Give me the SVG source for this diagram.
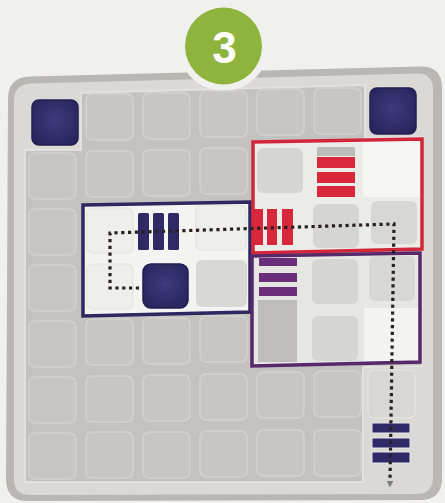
<svg xmlns="http://www.w3.org/2000/svg" width="445" height="503" viewBox="0 0 445 503">
  <defs>
    <style>
      .cell { fill: #c7c6c2; stroke: #d3d2ce; stroke-width: 1.5; }
      .faint { fill: #eeeeeb; stroke: #e3e3df; stroke-width: 1.2; }
      .lcell { fill: #d5d5d1; }
      .navy { fill: #2f2a66; }
      .red { fill: #d9283c; }
      .purple { fill: #6b2e7a; }
      .path { fill: none; stroke: #2a211f; stroke-width: 3.2; stroke-dasharray: 3.2 3.6; }
    </style>
    <radialGradient id="pyr" cx="0.5" cy="0.45" r="0.65">
      <stop offset="0" stop-color="#3f3b7c"/>
      <stop offset="1" stop-color="#27235c"/>
    </radialGradient>
    <marker id="arrow" viewBox="0 0 10 10" refX="2" refY="5" markerWidth="7" markerHeight="7" orient="auto" markerUnits="userSpaceOnUse">
      <path d="M0,0 L10,5 L0,10 Z" fill="#7d7d86"/>
    </marker>
  </defs>

  <rect x="0" y="0" width="445" height="503" fill="#f0f0ee"/>

  <g id="board">
    <path d="M8,99 Q8,77 30,76.5 L420,66.5 Q442,66 442,88 L442,478 Q442,500 420,500 L28,501 Q6,501 6,479 Z" fill="#bab7b2"/>
    <path d="M14,101 Q14,84 31,83.5 L417,73.5 Q433,73 433,90 L433,477 Q433,494 417,494 L30,495 Q14,495 14,479 Z" fill="#dad9d5"/>
    <path d="M81,93 L365,85 L365,138 L422,137 L422,366 L363,367 L363,482 L25,482 L25,150 L81,150 Z" fill="#c3c2be" stroke="#e2e1dd" stroke-width="2" stroke-linejoin="round"/>
  </g>

  <g id="badge">
    <circle cx="223.5" cy="46" r="45" fill="#f0f0ee"/>
    <circle cx="223.5" cy="46" r="38.5" fill="#8fb43e"/>
    <text x="224.5" y="63" font-family="Liberation Sans, Arial, sans-serif" font-weight="bold" font-size="44" fill="#ffffff" text-anchor="middle">3</text>
  </g>

  <g id="grid-cells">
    <!-- row 0 -->
    <rect class="cell" x="86" y="94" width="47" height="46" rx="6"/>
    <rect class="cell" x="143" y="93" width="47" height="46" rx="6"/>
    <rect class="cell" x="200" y="91" width="47" height="46" rx="6"/>
    <rect class="cell" x="257" y="89" width="47" height="46" rx="6"/>
    <rect class="cell" x="314" y="88" width="47" height="46" rx="6"/>
    <!-- row 1 -->
    <rect class="cell" x="29" y="153" width="47" height="46" rx="6"/>
    <rect class="cell" x="86" y="151" width="47" height="46" rx="6"/>
    <rect class="cell" x="143" y="150" width="47" height="46" rx="6"/>
    <rect class="cell" x="200" y="148" width="47" height="46" rx="6"/>
    <!-- rows 2-3 -->
    <rect class="cell" x="29" y="209" width="47" height="46" rx="6"/>
    <rect class="cell" x="29" y="265" width="47" height="46" rx="6"/>
    <!-- row 4 -->
    <rect class="cell" x="29" y="321" width="47" height="46" rx="6"/>
    <rect class="cell" x="86" y="319" width="47" height="46" rx="6"/>
    <rect class="cell" x="143" y="318" width="47" height="46" rx="6"/>
    <rect class="cell" x="200" y="316" width="47" height="46" rx="6"/>
    <!-- row 5 -->
    <rect class="cell" x="29" y="377" width="47" height="46" rx="6"/>
    <rect class="cell" x="86" y="376" width="47" height="46" rx="6"/>
    <rect class="cell" x="143" y="375" width="47" height="46" rx="6"/>
    <rect class="cell" x="200" y="374" width="47" height="46" rx="6"/>
    <rect class="cell" x="257" y="372" width="47" height="46" rx="6"/>
    <rect class="cell" x="314" y="371" width="47" height="46" rx="6"/>
    <!-- row 6 -->
    <rect class="cell" x="29" y="433" width="47" height="46" rx="6"/>
    <rect class="cell" x="86" y="432" width="47" height="46" rx="6"/>
    <rect class="cell" x="143" y="432" width="47" height="46" rx="6"/>
    <rect class="cell" x="200" y="431" width="47" height="46" rx="6"/>
    <rect class="cell" x="257" y="430" width="47" height="46" rx="6"/>
    <rect class="cell" x="314" y="430" width="47" height="46" rx="6"/>
    <!-- channel cell -->
    <rect x="368" y="370" width="47" height="48" rx="6" fill="#d8d7d3" stroke="#e2e1dd" stroke-width="1.5"/>
  </g>

  <g id="corner-top-left">
    <rect x="32" y="100" width="46" height="45" rx="7" fill="url(#pyr)" stroke="#221f50" stroke-width="1.5"/>
  </g>
  <g id="corner-top-right">
    <rect x="370" y="88" width="46" height="46" rx="7" fill="url(#pyr)" stroke="#221f50" stroke-width="1.5"/>
  </g>

  <g id="tile-navy">
    <path d="M83,205 L250,202 L250,312 L83,316 Z" fill="#f3f3f1"/>
    <rect class="faint" x="87" y="208" width="46" height="45" rx="6"/>
    <rect class="faint" x="87" y="264" width="46" height="45" rx="6"/>
    <rect class="faint" x="196" y="205" width="50" height="45" rx="6"/>
    <rect x="196" y="260" width="51" height="47" rx="6" fill="#d8d8d4"/>
    <rect class="navy" x="138" y="213" width="11" height="37" rx="1.5"/>
    <rect class="navy" x="153" y="213" width="11" height="37" rx="1.5"/>
    <rect class="navy" x="168" y="213" width="11" height="37" rx="1.5"/>
    <rect x="143" y="264" width="45" height="44" rx="8" fill="url(#pyr)" stroke="#221f50" stroke-width="1.5"/>
    <path d="M83,205 L250,202 L250,312 L83,316 Z" fill="none" stroke="#2d2862" stroke-width="3.5"/>
  </g>

  <g id="tile-red">
    <path d="M253,142 L422,139 L422,249 L253,253 Z" fill="#ebebe8"/>
    <rect x="363" y="142" width="57" height="55" fill="#f5f5f3"/>
    <rect class="lcell" x="257" y="148" width="46" height="45" rx="6"/>
    <rect x="317" y="147" width="38" height="9" fill="#bdbcb8"/>
    <rect class="red" x="317" y="157" width="38" height="11"/>
    <rect class="red" x="317" y="172" width="38" height="11"/>
    <rect class="red" x="317" y="186" width="38" height="11"/>
    <rect class="lcell" x="313" y="204" width="46" height="44" rx="6"/>
    <rect x="371" y="201" width="46" height="43" rx="6" fill="#d7d7d3"/>
    <rect class="red" x="253" y="209" width="10" height="36"/>
    <rect class="red" x="267" y="209" width="10" height="36"/>
    <rect class="red" x="282" y="209" width="11" height="36"/>
    <path d="M253,142 L422,139 L422,249 L253,253 Z" fill="none" stroke="#d3263a" stroke-width="3.5"/>
  </g>

  <g id="tile-purple">
    <path d="M252,256 L420,253 L420,362 L252,366 Z" fill="#e6e6e3"/>
    <rect x="364" y="308" width="54" height="53" fill="#f3f3f1"/>
    <rect class="lcell" x="312" y="259" width="46" height="45" rx="6"/>
    <rect x="369" y="256" width="46" height="45" rx="6" fill="#d7d7d3"/>
    <rect class="lcell" x="312" y="316" width="46" height="45" rx="6"/>
    <rect class="purple" x="259" y="258" width="38" height="8"/>
    <rect class="purple" x="259" y="273" width="38" height="9"/>
    <rect class="purple" x="259" y="287" width="38" height="9"/>
    <rect x="258" y="300" width="39" height="62" fill="#bebdb9"/>
    <path d="M252,256 L420,253 L420,362 L252,366 Z" fill="none" stroke="#57286a" stroke-width="3.5"/>
  </g>

  <g id="goal-bars">
    <rect class="navy" x="372" y="423" width="38" height="10" stroke="#e6e6ee" stroke-width="1"/>
    <rect class="navy" x="372" y="438" width="38" height="10" stroke="#e6e6ee" stroke-width="1"/>
    <rect class="navy" x="372" y="452" width="38" height="11" stroke="#e6e6ee" stroke-width="1"/>
  </g>

  <g id="connectors">
    <polyline class="path" points="139,288 110,288 110,233 394,224 390,482" marker-end="url(#arrow)"/>
  </g>
</svg>
